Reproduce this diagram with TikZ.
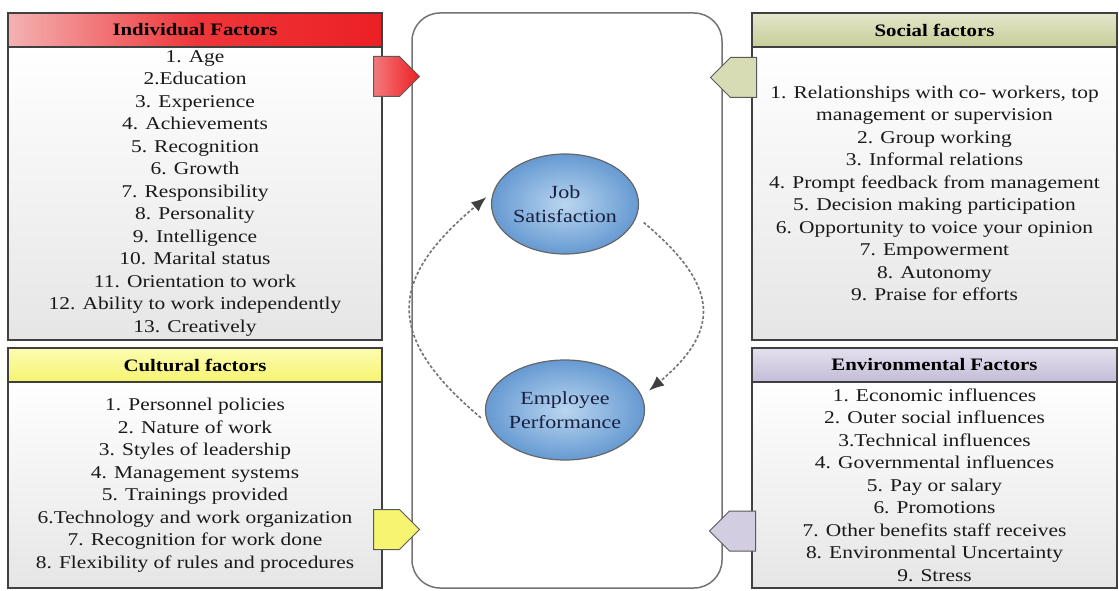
\documentclass[tikz,border=0pt]{standalone}
\usepackage{fontspec}
\setmainfont{Liberation Serif}[FakeStretch=1.19]
\usetikzlibrary{shapes.geometric,shapes.symbols,arrows.meta}
\definecolor{indlt}{RGB}{244,178,178}
\definecolor{indred}{RGB}{236,32,36}
\definecolor{soclt}{RGB}{228,231,204}
\definecolor{socdk}{RGB}{199,205,150}
\definecolor{cullt}{RGB}{252,252,178}
\definecolor{culdk}{RGB}{246,244,112}
\definecolor{envlt}{RGB}{228,224,238}
\definecolor{envdk}{RGB}{196,188,216}
\definecolor{ballin}{RGB}{186,214,240}
\definecolor{ballout}{RGB}{102,154,210}
\definecolor{navytext}{RGB}{25,32,64}
\begin{document}
\begin{tikzpicture}[x=1pt,y=1pt,>={Latex[length=15pt,width=12pt,color=black!75]},
  headbar/.style={draw=black!75,line width=1.2pt,minimum height=34pt,inner sep=0pt,font=\bfseries\fontsize{17.5}{20}\selectfont,text=black},
  listbox/.style={draw=black!75,line width=1.2pt,top color=white,bottom color=black!10,inner sep=0pt,align=center,font=\fontsize{18}{22.5}\selectfont,text=black!90},
  factortab/.style={signal,draw=black!65,line width=1pt,minimum width=46pt,minimum height=40pt,inner sep=0pt},
  coreball/.style={ellipse,draw=black!60,line width=1.2pt,inner color=ballin,outer color=ballout,minimum width=126pt,minimum height=100pt,inner sep=0pt,align=center,font=\fontsize{18.5}{24}\selectfont,text=navytext},
  loopline/.style={->,densely dashed,draw=black!55,line width=1.6pt,shorten <=9pt,shorten >=9pt}]
\useasboundingbox (0,0) rectangle (1119,590);
% middle frame
\node[draw=black!55,line width=1.5pt,rounded corners=28pt,fill=white,minimum width=310pt,minimum height=575pt] (core) at (567,289.5) {};
% four panels
\node[headbar,minimum width=374pt,left color=indlt,right color=indred,middle color=indred!90!white] (indhead) at (195,560) {Individual Factors};
\node[listbox,minimum width=374pt,minimum height=293pt] (indbody) at (195,396.5) {1. Age\\2.Education\\3. Experience\\4. Achievements\\5. Recognition\\6. Growth\\7. Responsibility\\8. Personality\\9. Intelligence\\10. Marital status\\11. Orientation to work\\12. Ability to work independently\\13. Creatively};
\node[headbar,minimum width=365pt,top color=soclt,bottom color=socdk] (sochead) at (934.5,560) {Social factors};
\node[listbox,minimum width=365pt,minimum height=293pt] (socbody) at (934.5,396.5) {1. Relationships with co- workers, top\\management or supervision\\2. Group working\\3. Informal relations\\4. Prompt feedback from management\\5. Decision making participation\\6. Opportunity to voice your opinion\\7. Empowerment\\8. Autonomy\\9. Praise for efforts};
\node[headbar,minimum width=374pt,top color=cullt,bottom color=culdk] (culhead) at (195,225) {Cultural factors};
\node[listbox,minimum width=374pt,minimum height=206pt] (culbody) at (195,105) {1. Personnel policies\\2. Nature of work\\3. Styles of leadership\\4. Management systems\\5. Trainings provided\\6.Technology and work organization\\7. Recognition for work done\\8. Flexibility of rules and procedures};
\node[headbar,minimum width=365pt,top color=envlt,bottom color=envdk] (envhead) at (934.5,225) {Environmental Factors};
\node[listbox,minimum width=365pt,minimum height=206pt] (envbody) at (934.5,105) {1. Economic influences\\2. Outer social influences\\3.Technical influences\\4. Governmental influences\\5. Pay or salary\\6. Promotions\\7. Other benefits staff receives\\8. Environmental Uncertainty\\9. Stress};
% pointers into the frame
\node[factortab,signal to=east,anchor=west,left color=indred!60!white,right color=indred] (indtab) at (373,513.5) {};
\node[factortab,signal to=west,anchor=east,fill=socdk!70!white] (soctab) at (757,512.5) {};
\node[factortab,signal to=east,anchor=west,fill=culdk] (cultab) at (373,60.5) {};
\node[factortab,signal to=west,anchor=east,fill=envdk!75!white] (envtab) at (756,59) {};
% cycle
\node[coreball] (job) at (565,386) {Job\\Satisfaction};
\node[coreball] (emp) at (565,180) {Employee\\Performance};
\draw[loopline] (job.-10) to[out=-40,in=40,looseness=1.5] (emp.10);
\draw[loopline] (emp.190) to[out=140,in=220,looseness=1.5] (job.170);
\end{tikzpicture}
\end{document}
